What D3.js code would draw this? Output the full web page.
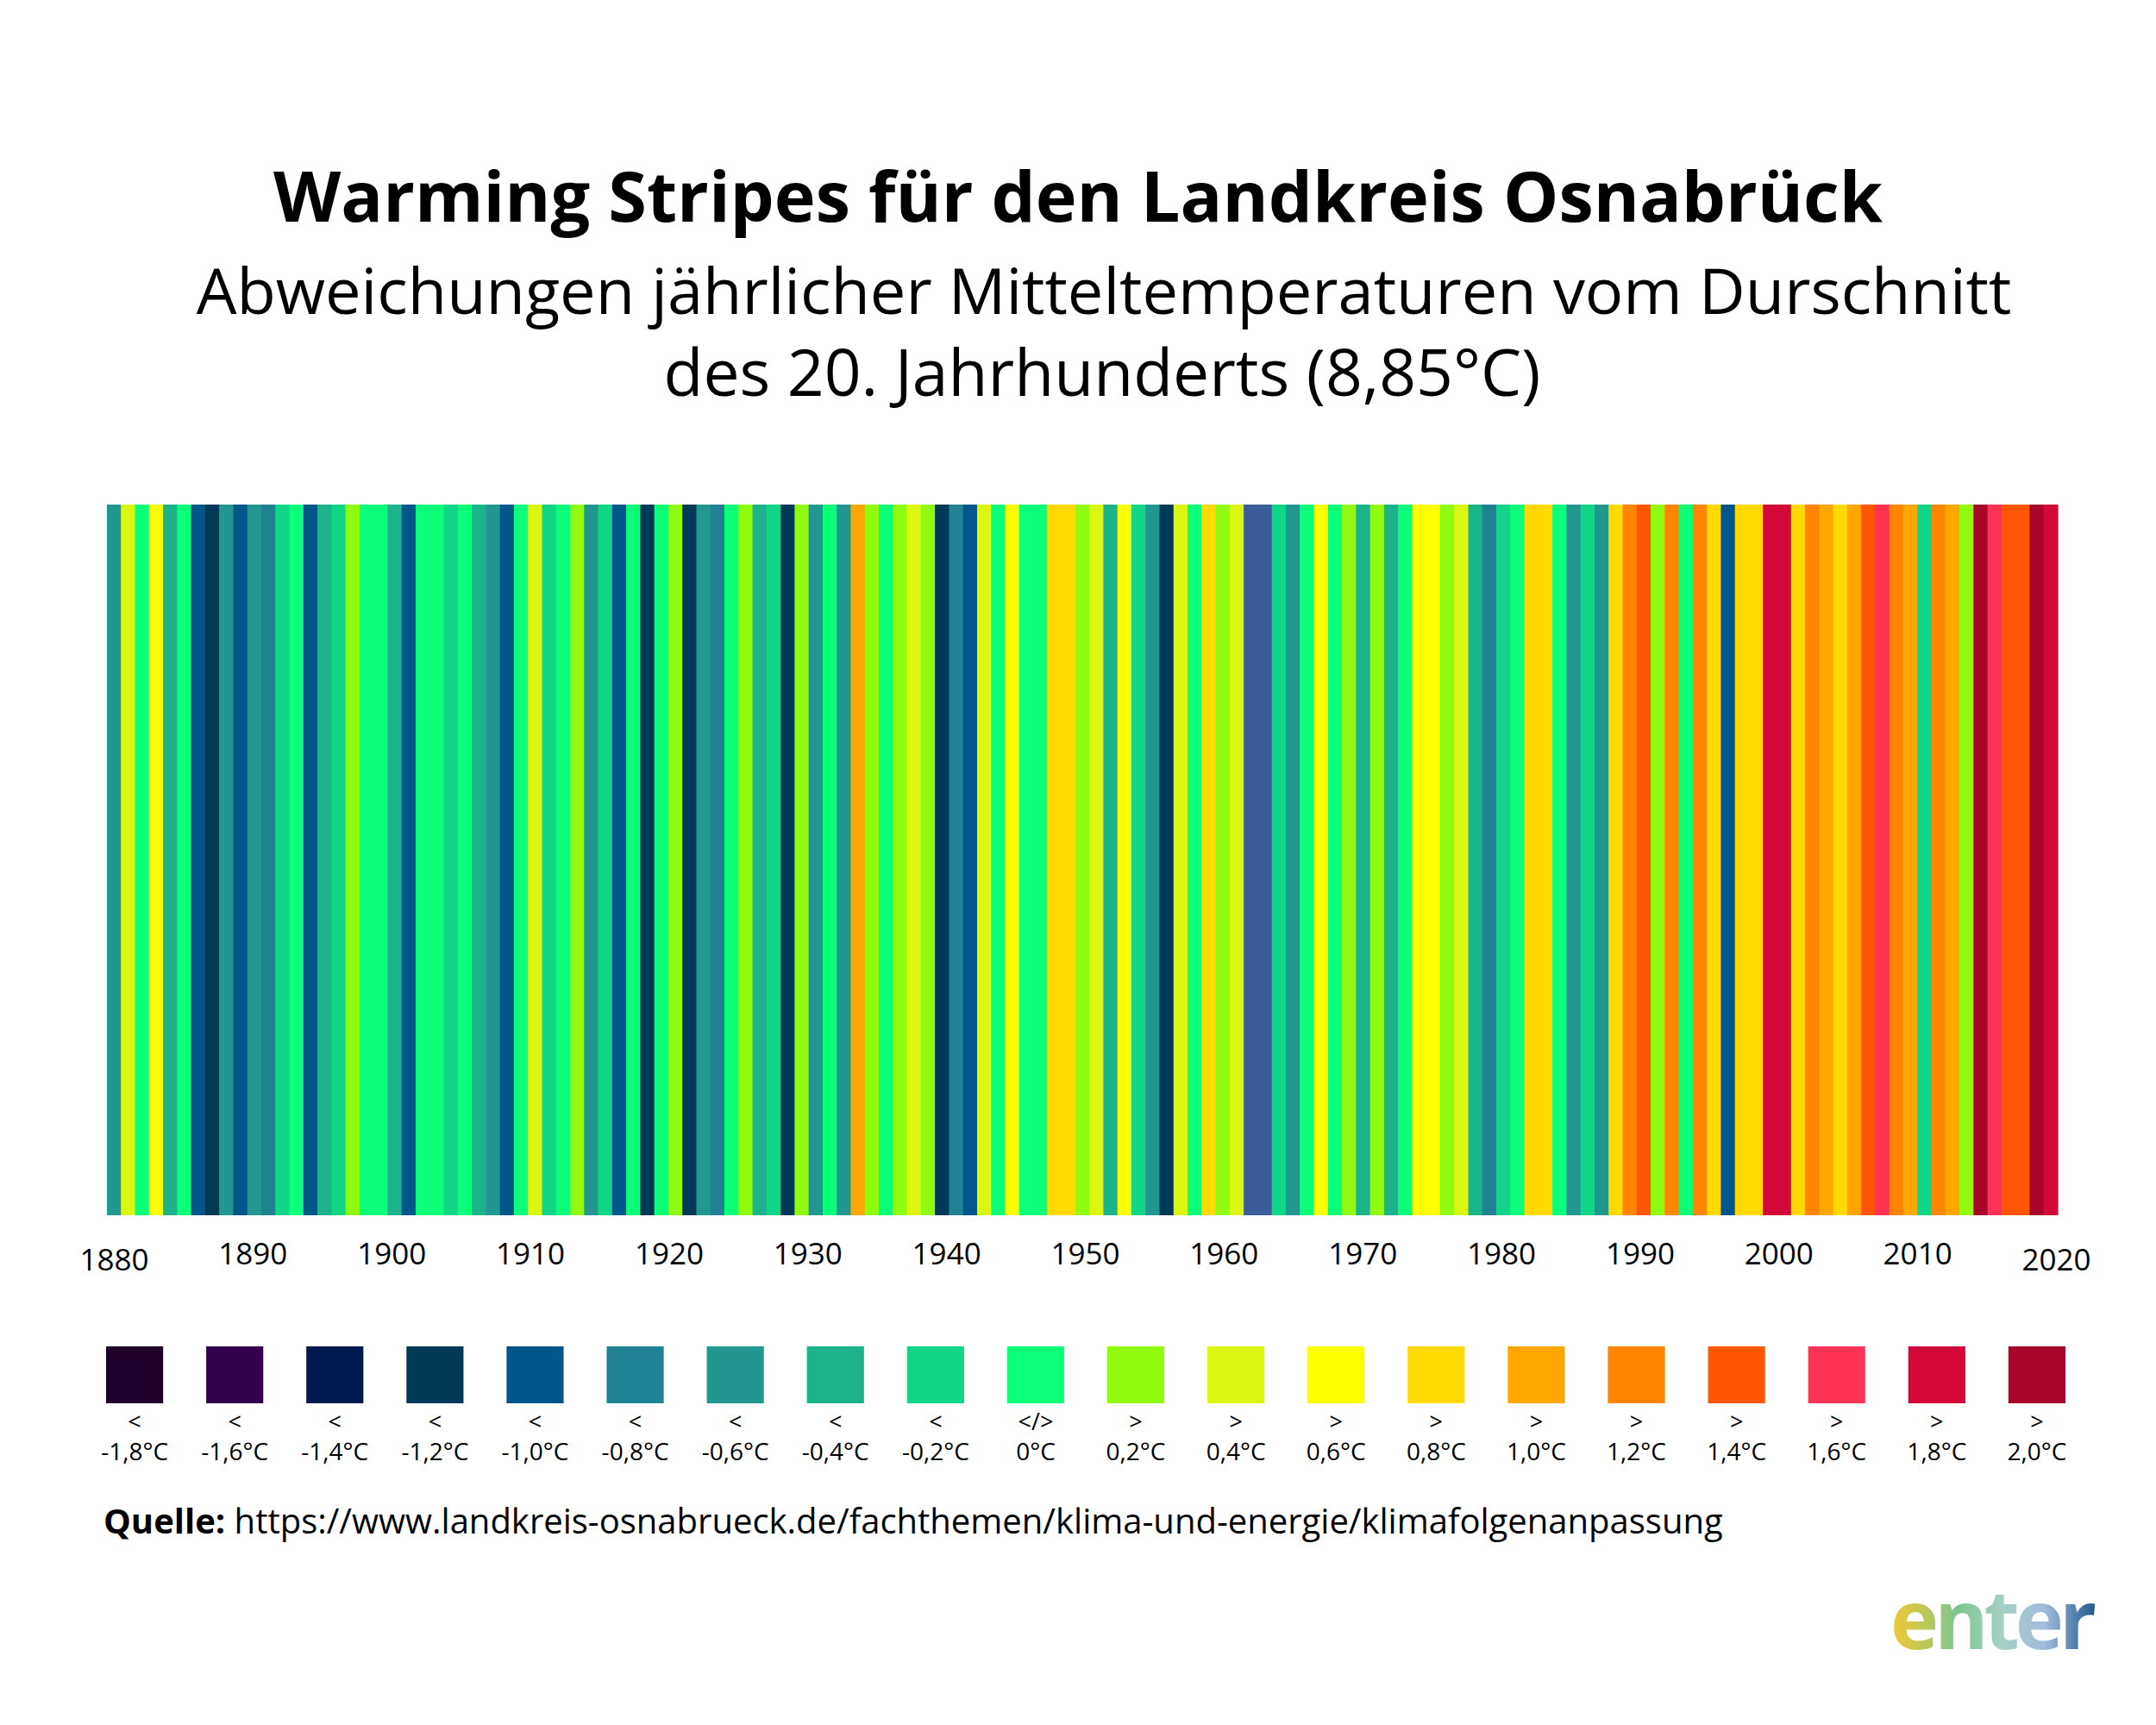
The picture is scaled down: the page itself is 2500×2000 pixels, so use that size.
<!DOCTYPE html>
<html>
<head>
<meta charset="utf-8">
<script src="https://cdn.jsdelivr.net/npm/d3@7"></script>
<style>
  body { margin: 0; background: #fff; }
  text { font-family: "Open Sans", sans-serif; fill: #000; }
</style>
</head>
<body>
<div id="chart"></div>
<script>
// years with data (DWD series for the district)
const firstYear = 1881
const lastYear = 2019
const years = d3.range(firstYear, lastYear + 1)

// annual anomaly vs. 20th century mean, read from the stripes (binned in 0.2 steps)
// -0.9 marks the two slate-blue stripes in the mid 1960s that have no legend colour
const anomalies = [
  -0.6, 0.4, 0, 0.6, -0.4, 0, -1.0, -1.2, -0.6, -1.0,
  -0.6, -0.8, -0.2, 0, -1.0, -0.4, -0.2, 0.2, 0, 0,
  -0.4, -1.0, 0, 0, -0.2, 0, -0.4, -0.6, -1.0, 0,
  0.4, -0.2, 0, 0.2, -0.6, -0.2, -1.0, 0, -1.2, 0,
  0.2, -1.2, -0.6, -0.8, 0, 0.2, -0.4, -0.2, -1.2, 0.2,
  -0.6, 0, -0.6, 1.0, 0.2, 0, 0.2, 0.4, 0.2, -1.2,
  -0.8, -1.0, 0.4, 0, 0.6, 0, 0, 0.8, 0.8, 0.2,
  0.4, -0.4, 0.6, -0.2, -0.6, -1.2, 0.4, 0, 0.8, 0.2,
  0.4, -0.9, -0.9, -0.2, -0.6, 0, 0.6, 0, 0.2, -0.4,
  0.2, -0.4, 0, 0.6, 0.6, 0.2, 0.4, -0.4, -0.8, -0.2,
  0, 0.8, 0.8, 0, -0.6, -0.2, -0.6, 0.8, 1.2, 1.4,
  0.2, 1.2, 0, 1.2, 0.8, -1.0, 0.8, 0.8, 1.8, 1.8,
  0.8, 1.2, 1.0, 0.8, 1.0, 1.4, 1.6, 1.2, 1.0, -0.2,
  1.2, 1.0, 0.2, 2.0, 1.6, 1.4, 1.4, 2.0, 1.8
]

// legend steps and their colours
const legendValues = [-1.8, -1.6, -1.4, -1.2, -1.0, -0.8, -0.6, -0.4, -0.2, 0,
  0.2, 0.4, 0.6, 0.8, 1.0, 1.2, 1.4, 1.6, 1.8, 2.0]
const legendColors = ["#20002a", "#34004e", "#01194f", "#003a57", "#02568a",
  "#1f8192", "#219790", "#1db38a", "#12d687", "#0bff78",
  "#90fb0f", "#dbf711", "#ffff00", "#ffd900", "#ffa700",
  "#ff8500", "#ff5604", "#ff3355", "#d10838", "#a8052c"]
const extraValue = -0.9
const extraColor = "#3a5d9a"

const axisYears = d3.range(1880, 2021, 10)

const title = "Warming Stripes für den Landkreis Osnabrück"
const subtitle1 = "Abweichungen jährlicher Mitteltemperaturen vom Durschnitt"
const subtitle2 = "des 20. Jahrhunderts (8,85°C)"
const sourceLabel = "Quelle:"
const sourceUrl = "https://www.landkreis-osnabrueck.de/fachthemen/klima-und-energie/klimafolgenanpassung"

const width = 2500
const height = 2000
const stripes = { left: 124, right: 2386, top: 585, bottom: 1409 }

const svg = d3.select("#chart")
  .append("svg")
    .attr("width", width)
    .attr("height", height)

svg.append("rect")
  .attr("width", width)
  .attr("height", height)
  .attr("fill", "#fff")

// titles
svg.append("text")
  .attr("x", 1250)
  .attr("y", 257)
  .attr("text-anchor", "middle")
  .style("font-size", "81px")
  .style("font-weight", 700)
  .text(title)

svg.append("text")
  .attr("x", 1280)
  .attr("y", 364)
  .attr("text-anchor", "middle")
  .style("font-size", "74px")
  .text(subtitle1)

svg.append("text")
  .attr("x", 1278)
  .attr("y", 459)
  .attr("text-anchor", "middle")
  .style("font-size", "75px")
  .text(subtitle2)

// colour scale
const color = d3.scaleOrdinal()
  .domain([...legendValues, extraValue])
  .range([...legendColors, extraColor])

// stripes
const x = d3.scaleBand()
  .domain(years)
  .range([stripes.left, stripes.right])
  .padding(0)

const stripeData = years.map((year, i) => ({ year: year, value: anomalies[i] }))

svg.append("g")
  .selectAll("rect")
  .data(stripeData)
  .join("rect")
    .attr("x", d => x(d.year))
    .attr("y", stripes.top)
    .attr("width", x.bandwidth() + 0.6)
    .attr("height", stripes.bottom - stripes.top)
    .attr("fill", d => color(d.value))

// year axis (labels were placed by hand, a bit off the stripe centres)
const xYear = d3.scaleLinear()
  .domain([1880, 2020])
  .range([132, 2384])

const axis = svg.append("g")
  .attr("transform", "translate(0,1466)")
  .call(d3.axisBottom(xYear).tickValues(axisYears).tickFormat(d3.format("d")).tickSize(0))

axis.select(".domain").remove()
axis.selectAll("text")
  .attr("y", 0)
  .attr("dy", (d, i) => (i == 0 || i == axisYears.length - 1) ? 7 : 0)
  .style("font-size", "35px")
  .style("font-family", "'Open Sans', sans-serif")
  .attr("fill", "#000")

// legend
const de = d3.formatLocale({ decimal: ",", thousands: ".", grouping: [3], currency: ["", " €"], minus: "-" })
const fmt = de.format(".1f")

const lx = d3.scaleBand()
  .domain(legendValues)
  .range([123, 2395])
  .paddingInner(0.43)
  .paddingOuter(0)

const legend = svg.append("g")
  .selectAll("g")
  .data(legendValues)
  .join("g")
    .attr("transform", d => `translate(${lx(d)},0)`)

legend.append("rect")
  .attr("y", 1561)
  .attr("width", lx.bandwidth())
  .attr("height", 66)
  .attr("fill", d => color(d))

legend.append("text")
  .attr("x", lx.bandwidth() / 2)
  .attr("y", 1658)
  .attr("text-anchor", "middle")
  .style("font-size", "27px")
  .text(d => d < 0 ? "<" : d > 0 ? ">" : "</>")

legend.append("text")
  .attr("x", lx.bandwidth() / 2)
  .attr("y", 1693)
  .attr("text-anchor", "middle")
  .style("font-size", "28px")
  .text(d => d == 0 ? "0°C" : fmt(d) + "°C")

// source line
const src = svg.append("text")
  .attr("x", 120)
  .attr("y", 1778)
  .style("font-size", "40px")
src.append("tspan")
  .style("font-weight", 700)
  .text(sourceLabel)
src.append("tspan")
  .text(" " + sourceUrl)

// logo
const grad = svg.append("defs")
  .append("linearGradient")
    .attr("id", "logoGrad")
    .attr("x1", "0%").attr("x2", "100%")
    .attr("y1", "0%").attr("y2", "0%")
const stops = [["0%", "#f2c935"], ["18%", "#b9c85a"], ["32%", "#7cc690"], ["55%", "#a6d0c6"], ["75%", "#a3bcdb"], ["100%", "#1d5a8c"]]
grad.selectAll("stop")
  .data(stops)
  .join("stop")
    .attr("offset", d => d[0])
    .attr("stop-color", d => d[1])

svg.append("text")
  .attr("x", 2192)
  .attr("y", 1912)
  .style("font-size", "95px")
  .style("font-weight", 700)
  .style("letter-spacing", "-5px")
  .attr("fill", "url(#logoGrad)")
  .style("fill", "url(#logoGrad)")
  .text("enter")
</script>
</body>
</html>
